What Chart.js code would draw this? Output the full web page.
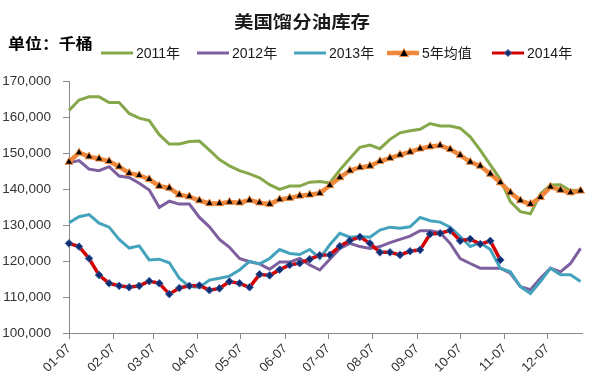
<!DOCTYPE html>
<html><head><meta charset="utf-8">
<script src="https://cdn.jsdelivr.net/npm/chart.js@4.4.0/dist/chart.umd.min.js"></script>
<style>
html,body{margin:0;padding:0;background:#fff;}
#wrap{position:relative;width:604px;height:383px;overflow:hidden;}
#c{position:absolute;left:0;top:0;}
.title{position:absolute;left:0;width:604px;top:9px;text-align:center;font-family:"Noto Sans CJK SC",sans-serif;font-size:17.5px;font-weight:bold;color:#1a1a1a;line-height:24px;transform:scaleX(1.11);transform-origin:302px 0;}
.unit{position:absolute;left:8px;top:33px;font-family:"Noto Sans CJK SC",sans-serif;font-size:15px;font-weight:bold;color:#000;line-height:20px;transform:scaleX(1.13);transform-origin:0 0;}
.lg{position:absolute;top:45px;height:16px;white-space:nowrap;font-family:"Liberation Sans","Noto Sans CJK SC",sans-serif;font-size:14px;color:#1a1a1a;line-height:16px;}
.lg svg{position:absolute;left:0;top:2px;}
.lg span{position:absolute;left:35px;top:0;}
</style>
</head><body>
<div id="wrap">
<canvas id="c" width="604" height="383"></canvas>
<div class="title">美国馏分油库存</div>
<div class="unit">单位：千桶</div>
<div id="legend"></div>
</div>
<script>
// ---- data (thousand barrels), weekly from 01-07 ----
const tickLabels = ['01-07','02-07','03-07','04-07','05-07','06-07','07-07','08-07','09-07','10-07','11-07','12-07'];
const seriesNames = ['2011年','2012年','2013年','5年均值','2014年'];
const s2011 = [161800,164700,165600,165600,164000,164000,161000,159700,159000,155100,152500,152500,153200,153300,150800,148200,146400,145100,144200,143100,141200,139900,140800,140800,141900,142100,141700,145300,148500,151600,152200,151200,153800,155600,156200,156600,158200,157500,157500,156900,154500,150800,146700,142700,136500,133700,133100,138600,141100,141200,139500,139700];
const s2012 = [147300,147900,145500,145100,146200,143600,143200,141600,139700,134900,136600,135800,135800,132100,129500,126000,123800,120700,119800,119200,117700,119700,119700,120700,118900,117500,120500,123500,124900,124000,123500,124000,125100,126000,126900,128400,128400,127900,124900,120700,119300,118000,118000,118000,116600,112900,112000,115200,118000,117000,119300,123500];
const s2013 = [130600,132300,132900,130500,129400,126000,123600,124200,120300,120500,119500,115200,112900,112700,114700,115200,115800,117500,119900,119200,120700,123200,122100,121800,123200,120700,124500,127700,126600,126800,126600,128600,129400,129100,129500,132100,131200,130800,129400,126800,124000,125100,123200,118000,117000,112900,111000,114300,118000,116200,116200,114300];
const s5yr  = [147500,150100,149000,148400,147700,146200,144400,143800,142700,140800,140300,138400,137900,136800,136000,136000,136400,136200,136900,136200,135800,137100,137500,138100,138400,138800,141000,143200,145100,146000,146400,147700,148600,149500,150300,151200,151800,152100,151000,149400,147500,146400,144200,141800,139000,136800,135800,137700,140600,139700,139000,139500];
const s2014 = [124900,124000,120700,116100,113800,113100,112700,113100,114400,113800,110800,112500,113100,113200,111900,112400,114300,113800,112700,116300,116000,117600,118900,119400,120500,121600,121700,124100,125700,126700,124900,122400,122400,121700,122700,123100,127500,127700,128500,125600,126100,124700,125600,120300];

function dayOfYear(lbl){const p=lbl.split('-').map(Number);return (Date.UTC(2014,p[0]-1,p[1])-Date.UTC(2014,0,0))/86400000;}
const firstDay = dayOfYear(tickLabels[0]);
const tickDays = tickLabels.map(dayOfYear);
const toXY = arr => arr.map((v,i)=>({x:firstDay+7*i,y:v}));

const C = {g:'#86A84B',p:'#7D5F9E',t:'#44A3BC',o:'#F0883C',r:'#D40000',n:'#0E2D6E'};

const datasets = [
 {label:seriesNames[0],data:toXY(s2011),borderColor:C.g,borderWidth:3,pointRadius:0,order:5},
 {label:seriesNames[1],data:toXY(s2012),borderColor:C.p,borderWidth:3,pointRadius:0,order:4},
 {label:seriesNames[2],data:toXY(s2013),borderColor:C.t,borderWidth:3,pointRadius:0,order:3},
 {label:seriesNames[3],data:toXY(s5yr),borderColor:C.o,borderWidth:4.5,pointStyle:'triangle',pointRadius:4.5,pointBackgroundColor:'#000',pointBorderColor:C.o,pointBorderWidth:1,order:2},
 {label:seriesNames[4],data:toXY(s2014),borderColor:C.r,borderWidth:3.5,pointStyle:'rectRot',pointRadius:3.8,pointBackgroundColor:C.n,pointBorderColor:'#3b5fa8',pointBorderWidth:1,order:1}
];
datasets.forEach(d=>{d.fill=false;d.tension=0;d.clip=false;});

new Chart(document.getElementById('c'),{
 type:'line',
 data:{datasets},
 options:{
  responsive:false,animation:false,
  layout:{padding:{top:81,right:22,left:0,bottom:0}},
  plugins:{legend:{display:false},title:{display:false},tooltip:{enabled:false}},
  scales:{
   x:{type:'linear',min:firstDay,max:firstDay+7*51+1,
      afterBuildTicks:s=>{s.ticks=tickDays.map(v=>({value:v}));},
      afterFit:s=>{s.height=50;},
      ticks:{autoSkip:false,minRotation:45,maxRotation:45,padding:2,color:'#333',font:{size:13,family:'Liberation Sans'},callback:(v,i)=>tickLabels[i]},
      grid:{display:true,drawOnChartArea:false,drawTicks:true,tickLength:6,color:'#888'},
      border:{display:true,color:'#888',width:1}},
   y:{min:100000,max:170000,
      afterFit:s=>{s.width=69;},
      ticks:{stepSize:10000,padding:12,color:'#333',font:{size:13.5,family:'Liberation Sans'},callback:v=>v.toLocaleString('en-US')},
      grid:{display:true,drawOnChartArea:false,drawTicks:true,tickLength:6,color:'#888'},
      border:{display:true,color:'#888',width:1}}
  }
 }
});

// legend
const lgPos=[101,197,294,387,492];
const lgHtml = seriesNames.map((n,k)=>{
 const col=[C.g,C.p,C.t,C.o,C.r][k];
 let mk='';
 if(k===3) mk='<polygon points="17,1.5 21.5,9.5 12.5,9.5" fill="#000" stroke="'+C.o+'" stroke-width="1"/>';
 if(k===4) mk='<polygon points="16,2.5 19.5,6 16,9.5 12.5,6" fill="'+C.n+'" stroke="#3b5fa8" stroke-width="1"/>';
 return '<div class="lg" style="left:'+lgPos[k]+'px"><svg width="32" height="12"><line x1="0" y1="6" x2="32" y2="6" stroke="'+col+'" stroke-width="'+(k===3?4.5:3)+'"/>'+mk+'</svg><span>'+n+'</span></div>';
}).join('');
document.getElementById('legend').innerHTML=lgHtml;
</script>
</body></html>
